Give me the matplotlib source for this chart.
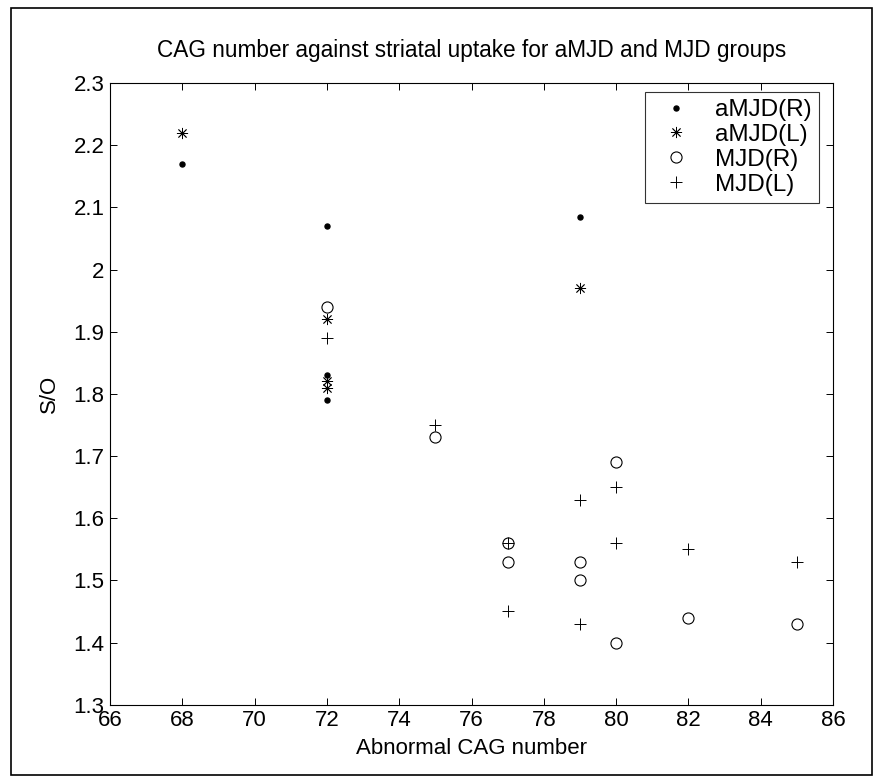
import matplotlib
matplotlib.use("Agg")
import matplotlib.pyplot as plt
from matplotlib.patches import Rectangle

plt.rcParams['font.family'] = ['Liberation Sans', 'DejaVu Sans']

# aMJD right / left striatum
amjd_x = [68, 72, 72, 72, 79]
amjd_r = [2.17, 2.07, 1.83, 1.79, 2.085]
amjd_l_x = [68, 72, 72, 72, 79]
amjd_l = [2.22, 1.92, 1.82, 1.81, 1.97]

# MJD right / left striatum
mjd_x = [72, 75, 77, 77, 79, 79, 80, 80, 82, 85]
mjd_r = [1.94, 1.73, 1.56, 1.53, 1.53, 1.50, 1.69, 1.40, 1.44, 1.43]
mjd_l_x = [72, 75, 77, 77, 79, 79, 80, 80, 82, 85]
mjd_l = [1.89, 1.75, 1.56, 1.45, 1.63, 1.43, 1.65, 1.56, 1.55, 1.53]

xticks = list(range(66, 87, 2))
yticks = [1.3, 1.4, 1.5, 1.6, 1.7, 1.8, 1.9, 2.0, 2.1, 2.2, 2.3]
yticklabels = ['1.3', '1.4', '1.5', '1.6', '1.7', '1.8', '1.9', '2', '2.1', '2.2', '2.3']

fig = plt.figure(figsize=(8.74, 7.83), dpi=100)
ax = fig.add_axes([0.126, 0.1, 0.827, 0.794])

ax.plot(amjd_x, amjd_r, linestyle='none', marker='o', markersize=3.6,
        color='black', label='aMJD(R)')
ax.plot(amjd_l_x, amjd_l, linestyle='none', marker=(8, 2, 0), markersize=8,
        markeredgewidth=0.6, color='black', label='aMJD(L)')
ax.plot(mjd_x, mjd_r, linestyle='none', marker='o', markersize=8,
        markerfacecolor='none', markeredgewidth=0.8, color='black', label='MJD(R)')
ax.plot(mjd_l_x, mjd_l, linestyle='none', marker='+', markersize=8,
        markeredgewidth=0.7, color='black', label='MJD(L)')

ax.set_xlim(66, 86)
ax.set_ylim(1.3, 2.3)
ax.set_xticks(xticks)
ax.set_yticks(yticks)
ax.set_yticklabels(yticklabels)
ax.tick_params(direction='in', top=True, right=True, length=5, width=0.7,
               labelsize=16, pad=4)
for s in ax.spines.values():
    s.set_linewidth(0.8)

ax.set_title('CAG number against striatal uptake for aMJD and MJD groups',
             fontsize=16.3, pad=19)
ax.set_xlabel('Abnormal CAG number', fontsize=16, labelpad=5)
ax.set_ylabel('S/O', fontsize=16, labelpad=10)

leg = ax.legend(loc='upper right', bbox_to_anchor=(0.981, 0.986), fontsize=17.5,
                frameon=True, fancybox=False, edgecolor='black', borderpad=0.3,
                labelspacing=0.12, handletextpad=0.6, handlelength=2.0,
                borderaxespad=0)
leg.get_frame().set_linewidth(0.8)

fig.patches.append(Rectangle((11 / 874, 8 / 783), 861 / 874, 767 / 783,
                             transform=fig.transFigure, fill=False,
                             edgecolor='black', linewidth=1.2))

fig.savefig('out.png', dpi=100)
